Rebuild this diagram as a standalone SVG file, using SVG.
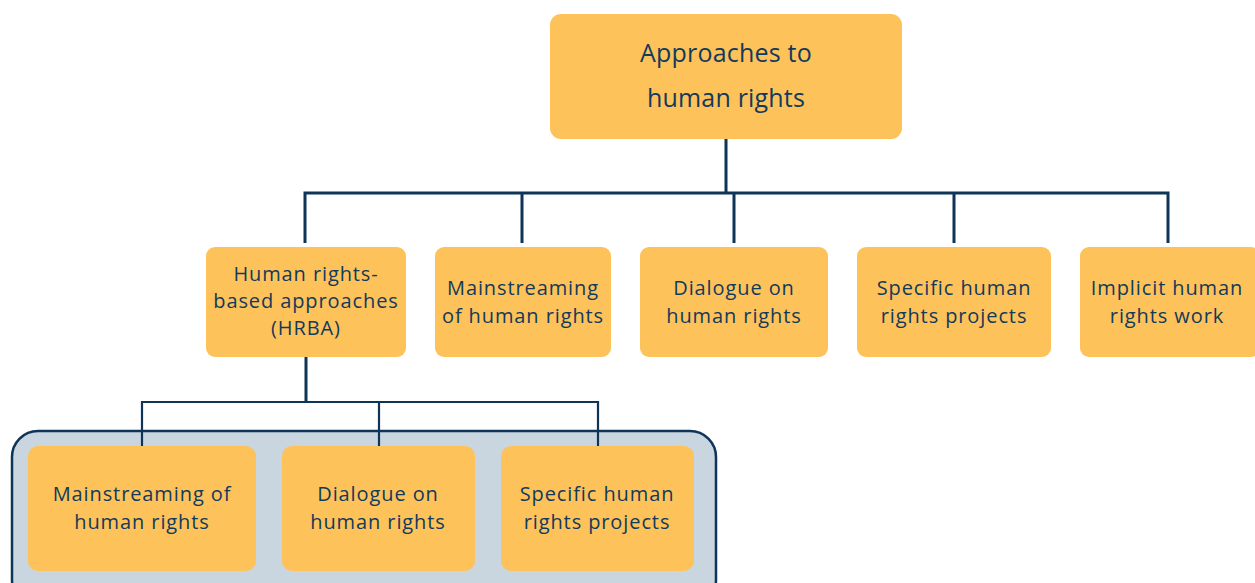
<svg xmlns="http://www.w3.org/2000/svg" width="1255" height="583" viewBox="0 0 1255 583">
<style>
.box{fill:#FEC25A}
.t{font-family:"Open Sans","Liberation Sans",sans-serif;fill:#123A5C;text-anchor:middle;font-size:20px;letter-spacing:0.9px}
.big{font-size:25px;letter-spacing:0.2px}
.c{fill:none;stroke:#0E3558;stroke-width:3}
.c2{fill:none;stroke:#0E3558;stroke-width:2.2}
</style>
<rect width="1255" height="583" fill="#ffffff"/>
<g id="container">
<rect x="12" y="431" width="704" height="175" rx="26" fill="#C9D6DF" stroke="#0E3558" stroke-width="2.5"/>
</g>
<g id="connectors">
<path class="c" d="M726 139 V193 M305 243 V193 H1168 V243 M522 193 V243 M734 193 V243 M954 193 V243"/>
<path class="c" d="M306 357 V402"/>
<path class="c2" d="M142 446 V402 H598 V446 M379 402 V446"/>
</g>
<g id="root">
<rect class="box" x="550" y="14" width="352" height="125" rx="11"/>
<text class="t big" x="726" y="62">Approaches to</text>
<text class="t big" x="726" y="107">human rights</text>
</g>
<g id="hrba">
<rect class="box" x="206" y="247" width="200" height="110" rx="9"/>
<text class="t" x="306" y="281">Human rights-</text>
<text class="t" x="306" y="308">based approaches</text>
<text class="t" x="306" y="335">(HRBA)</text>
</g>
<g id="mainstreaming">
<rect class="box" x="435" y="247" width="176" height="110" rx="9"/>
<text class="t" x="523" y="295">Mainstreaming</text>
<text class="t" x="523" y="323">of human rights</text>
</g>
<g id="dialogue">
<rect class="box" x="640" y="247" width="188" height="110" rx="9"/>
<text class="t" x="734" y="295">Dialogue on</text>
<text class="t" x="734" y="323">human rights</text>
</g>
<g id="specific">
<rect class="box" x="857" y="247" width="194" height="110" rx="9"/>
<text class="t" x="954" y="295">Specific human</text>
<text class="t" x="954" y="323">rights projects</text>
</g>
<g id="implicit">
<rect class="box" x="1080" y="247" width="180" height="110" rx="9"/>
<text class="t" x="1167" y="295">Implicit human</text>
<text class="t" x="1167" y="323">rights work</text>
</g>
<g id="sub-mainstreaming">
<rect class="box" x="28" y="446" width="228" height="125" rx="10"/>
<text class="t" x="142" y="501">Mainstreaming of</text>
<text class="t" x="142" y="529">human rights</text>
</g>
<g id="sub-dialogue">
<rect class="box" x="282" y="446" width="193" height="125" rx="10"/>
<text class="t" x="378" y="501">Dialogue on</text>
<text class="t" x="378" y="529">human rights</text>
</g>
<g id="sub-specific">
<rect class="box" x="501" y="446" width="193" height="125" rx="10"/>
<text class="t" x="597" y="501">Specific human</text>
<text class="t" x="597" y="529">rights projects</text>
</g>
</svg>
